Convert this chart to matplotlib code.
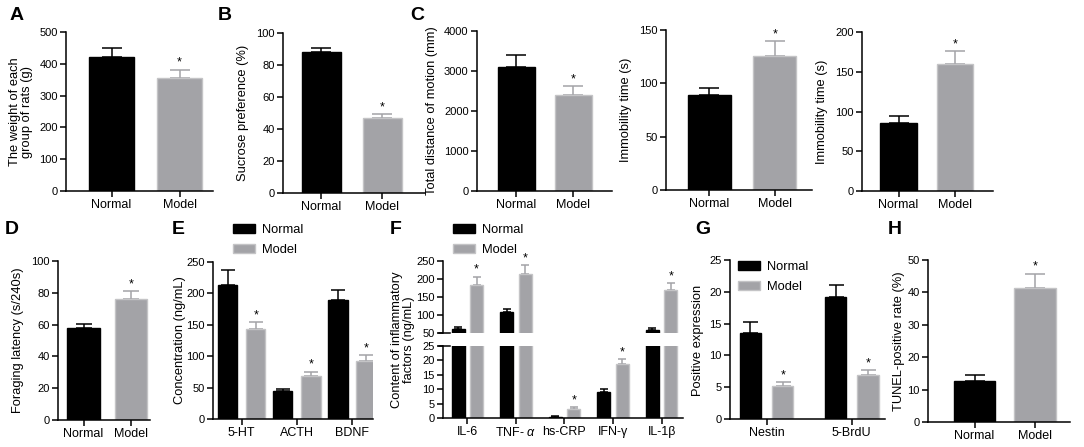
import matplotlib
matplotlib.use("Agg")
import matplotlib.pyplot as plt
from matplotlib.patches import Patch
import numpy as np

plt.rcParams['font.family'] = ['Liberation Sans', 'DejaVu Sans']
plt.rcParams['mathtext.fontset'] = 'custom'
plt.rcParams['mathtext.it'] = 'Liberation Sans:italic'
plt.rcParams['mathtext.rm'] = 'Liberation Sans'

# ---------------- data ----------------
groups2 = ["Normal", "Model"]
weight_mean = [421, 354]
weight_err = [29, 28]
sucrose_mean = [88, 47]
sucrose_err = [2.5, 2.3]
distance_mean = [3112, 2407]
distance_err = [290, 224]
immob1_mean = [88.8, 125.3]
immob1_err = [6.5, 14.7]
immob2_mean = [85.5, 159.7]
immob2_err = [8.8, 16.5]
foraging_mean = [57.6, 75.9]
foraging_err = [2.8, 5.2]

E_cats = ["5-HT", "ACTH", "BDNF"]
E_normal = [213, 45, 189]
E_normal_err = [24, 3, 16]
E_model = [143, 69, 93]
E_model_err = [11, 6.5, 9]

F_cats = ["IL-6", "TNF- $\\alpha$", "hs-CRP", "IFN-\u03b3", "IL-1\u03b2"]
F_normal = [61, 107, 0.5, 9.0, 57.4]
F_normal_err = [5.5, 9, 0.15, 1.0, 5.5]
F_model = [183.6, 213, 3.2, 18.7, 170.7]
F_model_err = [23, 26, 0.5, 1.7, 18]

G_cats = ["Nestin", "5-BrdU"]
G_normal = [13.5, 19.2]
G_normal_err = [1.7, 1.8]
G_model = [5.2, 6.85]
G_model_err = [0.6, 0.85]

tunel_mean = [12.7, 41.3]
tunel_err = [1.7, 4.5]

# ---------------- style ----------------
BLACK = "#000000"
GRAY = "#a3a3a7"
GRAY_EDGE = "#c4c4c6"
TICK_FS = 8
XTICK_FS = 9
LABEL_FS = 9.3
W, H = 1084, 447

fig = plt.figure(figsize=(W / 100, H / 100), dpi=100)


def px_axes(x0, x1, ytop, ybot):
    return fig.add_axes([x0 / W, 1 - ybot / H, (x1 - x0) / W, (ybot - ytop) / H])


def style(ax, bottom=True):
    for s in ("top", "right"):
        ax.spines[s].set_visible(False)
    ax.spines["left"].set_linewidth(1.1)
    ax.spines["bottom"].set_linewidth(1.1)
    if not bottom:
        ax.spines["bottom"].set_visible(False)
    ax.tick_params(axis="both", direction="out", length=4.5, width=1.1, pad=1.5)
    ax.tick_params(axis="y", labelsize=TICK_FS)
    ax.tick_params(axis="x", labelsize=XTICK_FS)


def ylabel_px(text, xright, ycenter):
    fig.text(xright / W, 1 - ycenter / H, text, rotation=90, ha="right", va="center",
             fontsize=LABEL_FS, linespacing=1.05, multialignment="center")


def draw_bars(ax, xs, vals, errs, color, width, cap_pt, star=False, ylim=None):
    edge = GRAY_EDGE if color == GRAY else BLACK
    ax.bar(xs, vals, width=width, color=color, edgecolor=edge, linewidth=1.0, zorder=2)
    lo, hi = ylim if ylim else (-np.inf, np.inf)
    for x, v, e in zip(xs, vals, errs):
        if v + e > hi or v < lo:
            continue
        ax.errorbar([x], [v], yerr=[[0], [e]], fmt="none", ecolor=color,
                    elinewidth=1.1, capsize=cap_pt, capthick=1.1, zorder=1)
        if star:
            ax.annotate("*", (x, v + e), xytext=(0, 0.5), textcoords="offset points",
                        ha="center", va="bottom", fontsize=9)


def two_group(x0, x1, ytop, ybot, mean, err, ymax, yticks, xlim, width, label, lab_px, cap_pt):
    ax = px_axes(x0, x1, ytop, ybot)
    xs = np.arange(len(groups2))
    draw_bars(ax, [xs[0]], [mean[0]], [err[0]], BLACK, width, cap_pt)
    draw_bars(ax, [xs[1]], [mean[1]], [err[1]], GRAY, width, cap_pt, star=True)
    ax.set_xlim(*xlim)
    ax.set_ylim(0, ymax)
    ax.set_yticks(yticks)
    ax.set_xticks(xs)
    ax.set_xticklabels(groups2)
    style(ax)
    ylabel_px(label, lab_px, (ytop + ybot) / 2)
    return ax


# A
two_group(66, 213, 32, 191, weight_mean, weight_err, 500, range(0, 501, 100),
          (-0.67, 1.49), 0.66, "The weight of each\ngroup of rats (g)", 33, 7.5)
# B
two_group(283, 425, 33, 193, sucrose_mean, sucrose_err, 100, range(0, 101, 20),
          (-0.63, 1.70), 0.64, "Sucrose preference (%)", 249, 7)
# C1
two_group(477, 612, 31, 191, distance_mean, distance_err, 4000, range(0, 4001, 1000),
          (-0.69, 1.675), 0.65, "Total distance of motion (mm)", 438, 7)
# C2
two_group(666, 812, 30, 190, immob1_mean, immob1_err, 150, range(0, 151, 50),
          (-0.66, 1.565), 0.656, "Immobility time (s)", 632, 7.5)
# C3
two_group(862, 993, 32, 191, immob2_mean, immob2_err, 200, range(0, 201, 50),
          (-0.646, 1.67), 0.65, "Immobility time (s)", 828, 7)
# D
two_group(58, 150, 261, 420, foraging_mean, foraging_err, 100, range(0, 101, 20),
          (-0.537, 1.4), 0.69, "Foraging latency (s/240s)", 24, 6)
# H
two_group(928, 1070, 260, 422, tunel_mean, tunel_err, 50, range(0, 51, 10),
          (-0.77, 1.58), 0.69, "TUNEL-positive rate (%)", 905, 7.2)


def legend_at(ax, xpx, ypx):
    handles = [Patch(facecolor=BLACK, edgecolor=BLACK, label="Normal"),
               Patch(facecolor=GRAY, edgecolor=GRAY_EDGE, label="Model")]
    ax.legend(handles=handles, loc="upper left", bbox_to_anchor=(xpx / W, 1 - ypx / H),
              bbox_transform=fig.transFigure, frameon=False, fontsize=9.3,
              handlelength=1.7, handleheight=0.7, handletextpad=0.55,
              labelspacing=0.6, borderpad=0, borderaxespad=0)


# E
x0, x1 = 213, 373
axE = px_axes(x0, x1, 262, 419)
xs = np.arange(len(E_cats))
draw_bars(axE, xs - 0.255, E_normal, E_normal_err, BLACK, 0.35, 5)
draw_bars(axE, xs + 0.255, E_model, E_model_err, GRAY, 0.35, 5, star=True)
axE.set_xlim(-0.52, 2.38)
axE.set_ylim(0, 250)
axE.set_yticks(range(0, 251, 50))
axE.set_xticks(xs)
axE.set_xticklabels(E_cats)
style(axE)
ylabel_px("Concentration (ng/mL)", 186, 340)
legend_at(axE, 233, 224)

# F (broken axis)
x0, x1 = 443, 683
axFt = px_axes(x0, x1, 261, 333)
axFb = px_axes(x0, x1, 346, 418)
xs = np.arange(len(F_cats))
for ax, lim in ((axFt, (50, 250)), (axFb, (0, 25))):
    draw_bars(ax, xs - 0.19, F_normal, F_normal_err, BLACK, 0.27, 3, ylim=lim)
    draw_bars(ax, xs + 0.19, F_model, F_model_err, GRAY, 0.27, 3, star=True, ylim=lim)
    ax.set_xlim(-0.5, 4.44)
    ax.set_ylim(*lim)
axFt.set_yticks(range(50, 251, 50))
axFb.set_yticks(range(0, 26, 5))
style(axFt, bottom=False)
style(axFb)
axFt.set_xticks([])
axFb.set_xticks(xs)
axFb.set_xticklabels(F_cats)
for ax, yy in ((axFt, 0), (axFb, 1)):
    ax.plot([-0.015, 0.03], [yy, yy], transform=ax.transAxes, color="black",
            lw=1.1, clip_on=False)
ylabel_px("Content of inflammatory\nfactors (ng/mL)", 415, 340)
legend_at(axFt, 453, 224)

# G
x0, x1 = 730, 885
axG = px_axes(x0, x1, 260, 419)
xs = np.arange(len(G_cats))
draw_bars(axG, xs - 0.19, G_normal, G_normal_err, BLACK, 0.25, 5.4)
draw_bars(axG, xs + 0.19, G_model, G_model_err, GRAY, 0.25, 5.4, star=True)
axG.set_xlim(-0.43, 1.39)
axG.set_ylim(0, 25)
axG.set_yticks(range(0, 26, 5))
axG.set_xticks(xs)
axG.set_xticklabels(G_cats)
style(axG)
ylabel_px("Positive expression", 704, 340)
legend_at(axG, 738, 261)

# panel letters
for letter, xp, yp in (("A", 10, 15), ("B", 218, 15), ("C", 410, 15),
                       ("D", 5, 230), ("E", 172, 230), ("F", 390, 230),
                       ("G", 695, 230), ("H", 888, 230)):
    fig.text(xp / W, 1 - yp / H, letter, fontsize=14, fontweight="bold",
             ha="left", va="center")

fig.savefig("out.png", dpi=100)
